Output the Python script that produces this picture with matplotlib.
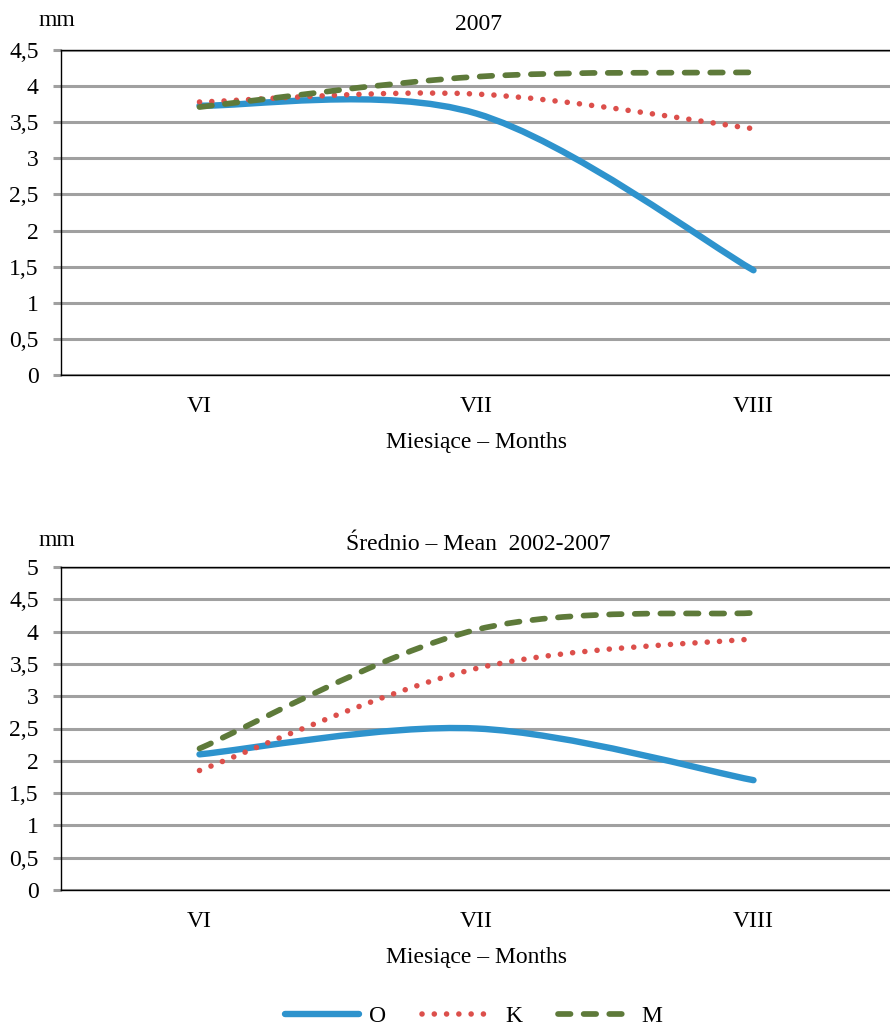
import numpy as np
import matplotlib
matplotlib.use("Agg")
import matplotlib.pyplot as plt
from matplotlib.path import Path
from matplotlib.patches import PathPatch
from matplotlib.lines import Line2D

plt.rcParams['font.family'] = ['Liberation Serif', 'DejaVu Serif']

# Months on the category axis
months = ["VI", "VII", "VIII"]
series_names = ["O", "K", "M"]

# Season 2007 (mm)
o_2007 = [3.73, 3.62, 1.45]
k_2007 = [3.78, 3.89, 3.41]
m_2007 = [3.71, 4.13, 4.19]

# Mean 2002-2007 (mm)
o_mean = [2.10, 2.50, 1.70]
k_mean = [1.85, 3.43, 3.89]
m_mean = [2.19, 4.03, 4.29]

colors = {"O": "#2E93CD", "K": "#DC4F4B", "M": "#5E7A3A"}
styles = {
    "O": dict(linestyle="-", linewidth=4.6),
    "K": dict(linestyle=(0, (0.01, 2.2)), linewidth=4.0),
    "M": dict(linestyle=(0, (2.2, 2.3)), linewidth=4.1),
}

GRID = "#A0A0A0"
FS = 17


def smooth_path(ys):
    """Cardinal Bezier path through the points (spreadsheet-style smoothed line)."""
    pts = np.column_stack([np.arange(len(ys), dtype=float), np.asarray(ys, float)])
    n = len(pts)
    verts = [pts[0]]
    codes = [Path.MOVETO]
    for i in range(n - 1):
        p0 = pts[max(i - 1, 0)]
        p1 = pts[i]
        p2 = pts[i + 1]
        p3 = pts[min(i + 2, n - 1)]
        c1 = p1 + (p2 - p0) / 6.0
        c2 = p2 - (p3 - p1) / 6.0
        verts += [c1, c2, p2]
        codes += [Path.CURVE4] * 3
    return Path(np.array(verts), codes)


def draw_panel(ax, data, ymax):
    for name, ys in data:
        st = styles[name]
        patch = PathPatch(smooth_path(ys), fill=False, edgecolor=colors[name],
                          linewidth=st["linewidth"], linestyle=st["linestyle"],
                          capstyle="round", joinstyle="round", zorder=3)
        ax.add_patch(patch)
    ax.set_xlim(-0.5, 2.5)
    ax.set_ylim(0, ymax)
    yt = np.arange(0, ymax + 0.01, 0.5)
    ax.set_yticks(yt)
    ax.set_yticklabels([("%g" % v).replace(".", ",") for v in yt], fontsize=FS)
    ax.set_xticks(range(len(months)))
    ax.set_xticklabels(months, fontsize=FS)
    ax.yaxis.grid(True, color=GRID, linewidth=2.2, zorder=0)
    ax.set_axisbelow(True)
    ax.tick_params(axis="y", length=6, width=2.2, color=GRID, pad=10)
    ax.tick_params(axis="x", length=0, pad=15)
    for s in ("left", "top", "bottom"):
        ax.spines[s].set_color("black")
        ax.spines[s].set_linewidth(1.0)
        ax.spines[s].set_zorder(2.5)
    ax.spines["right"].set_visible(False)
    ax.set_xlabel("Miesiące – Months", fontsize=FS, labelpad=11)


fig = plt.figure(figsize=(8.9, 10.27), dpi=100)
W, H = 890.0, 1027.0

ax1 = fig.add_axes([61 / W, 1 - 375 / H, 831 / W, 325 / H])
draw_panel(ax1, [("O", o_2007), ("K", k_2007), ("M", m_2007)], 4.5)

ax2 = fig.add_axes([61 / W, 1 - 890 / H, 831 / W, 323 / H])
draw_panel(ax2, [("O", o_mean), ("K", k_mean), ("M", m_mean)], 5.0)

fig.text(478 / W, 1 - 25 / H, "2007", fontsize=FS, ha="center", va="center")
fig.text(478 / W, 1 - 545 / H, "Średnio – Mean  2002-2007", fontsize=FS,
         ha="center", va="center")
fig.text(57 / W, 1 - 20 / H, "mm", fontsize=FS, ha="center", va="center")
fig.text(57 / W, 1 - 540 / H, "mm", fontsize=FS, ha="center", va="center")

handles = []
for name in series_names:
    st = styles[name]
    h = Line2D([], [], color=colors[name], linewidth=st["linewidth"],
               linestyle=st["linestyle"], solid_capstyle="round",
               dash_capstyle="round")
    handles.append(h)
fig.legend(handles, series_names, loc="center", bbox_to_anchor=(474 / W, 1 - 1016 / H),
           ncol=3, frameon=False, fontsize=FS, handlelength=3.1,
           handletextpad=0.45, columnspacing=1.5)

fig.savefig("out.png", dpi=100)
